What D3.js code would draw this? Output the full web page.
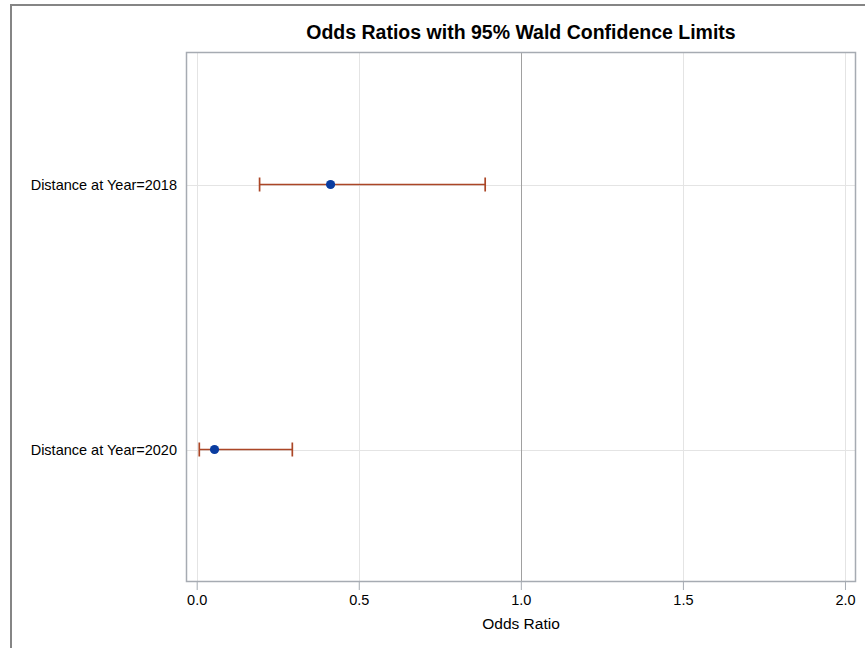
<!DOCTYPE html>
<html>
<head>
<meta charset="utf-8">
<script src="https://cdn.jsdelivr.net/npm/d3@7"></script>
<style>
  html, body { margin: 0; padding: 0; background: #fff; }
  svg { display: block; }
  text { font-family: "Liberation Sans", Arial, sans-serif; fill: #000; }
</style>
</head>
<body>
<svg id="chart" width="865" height="648"></svg>
<script>
// ---- data ----
const categories = ["Distance at Year=2018", "Distance at Year=2020"];
const oddsRatio  = [0.413, 0.055];
const lowerCL    = [0.194, 0.008];
const upperCL    = [0.890, 0.295];
const xTicks     = [0.0, 0.5, 1.0, 1.5, 2.0];
const refValue   = 1.0;
const titleText  = "Odds Ratios with 95% Wald Confidence Limits";
const xLabel     = "Odds Ratio";

// ---- layout ----
const W = 865, H = 648;
const plot = { left: 186, right: 856, top: 52, bottom: 582 };

const svg = d3.select("#chart");

// outer window border (top + left)
svg.append("line").attr("x1", 11).attr("x2", W).attr("y1", 5).attr("y2", 5)
  .attr("stroke", "#858585").attr("stroke-width", 2);
svg.append("line").attr("x1", 11).attr("x2", 11).attr("y1", 4).attr("y2", H)
  .attr("stroke", "#858585").attr("stroke-width", 2);

const x = d3.scaleLinear().domain([-0.033, 2.034]).range([plot.left, plot.right]);
const y = d3.scalePoint().domain(categories).range([plot.top, plot.bottom]).padding(0.5);

// vertical grid lines
svg.append("g").selectAll("line").data(xTicks.filter(t => t !== refValue)).join("line")
  .attr("x1", d => Math.round(x(d)) + 0.5).attr("x2", d => Math.round(x(d)) + 0.5)
  .attr("y1", plot.top).attr("y2", plot.bottom)
  .attr("stroke", "#e4e4e4").attr("stroke-width", 1);

// horizontal grid lines
svg.append("g").selectAll("line").data(categories).join("line")
  .attr("x1", plot.left).attr("x2", plot.right)
  .attr("y1", d => Math.round(y(d)) + 0.5).attr("y2", d => Math.round(y(d)) + 0.5)
  .attr("stroke", "#e4e4e4").attr("stroke-width", 1);

// reference line at 1
svg.append("line")
  .attr("x1", Math.round(x(refValue)) + 0.5).attr("x2", Math.round(x(refValue)) + 0.5)
  .attr("y1", plot.top).attr("y2", plot.bottom)
  .attr("stroke", "#a0a0a0").attr("stroke-width", 1);

// plot frame
svg.append("rect")
  .attr("x", plot.left + 0.5).attr("y", plot.top + 0.5)
  .attr("width", plot.right - plot.left - 1).attr("height", plot.bottom - plot.top - 1)
  .attr("fill", "none").attr("stroke", "#a6abb2").attr("stroke-width", 1.5);

// x axis
const xAxis = d3.axisBottom(x).tickValues(xTicks).tickFormat(d3.format(".1f"))
  .tickSize(8).tickPadding(5);
const gx = svg.append("g").attr("transform", `translate(0,${plot.bottom})`).call(xAxis);
gx.select(".domain").remove();
gx.selectAll(".tick line").attr("stroke", "#a6abb2");
gx.selectAll(".tick text").attr("font-size", "14.5px")
  .attr("font-family", "'Liberation Sans', Arial, sans-serif").attr("fill", "#000");

// x axis label
svg.append("text").attr("x", (plot.left + plot.right) / 2).attr("y", 629)
  .attr("text-anchor", "middle").attr("font-size", "15.5px").text(xLabel);

// y labels
svg.append("g").selectAll("text").data(categories).join("text")
  .attr("x", 177).attr("y", d => y(d)).attr("dy", "0.36em")
  .attr("text-anchor", "end").attr("font-size", "14.5px").text(d => d);

// title
svg.append("text").attr("x", (plot.left + plot.right) / 2).attr("y", 39)
  .attr("text-anchor", "middle").attr("font-size", "19.5px").attr("font-weight", "bold")
  .text(titleText);

// error bars
const errColor = "#ab4626";
const rows = categories.map((c, i) => ({ c, or: oddsRatio[i], lo: lowerCL[i], hi: upperCL[i] }));
const eg = svg.append("g");
eg.selectAll("line.bar").data(rows).join("line").attr("class", "bar")
  .attr("x1", d => x(d.lo)).attr("x2", d => x(d.hi))
  .attr("y1", d => y(d.c)).attr("y2", d => y(d.c))
  .attr("stroke", errColor).attr("stroke-width", 1.7);
eg.selectAll("line.capl").data(rows).join("line").attr("class", "capl")
  .attr("x1", d => x(d.lo)).attr("x2", d => x(d.lo))
  .attr("y1", d => y(d.c) - 7).attr("y2", d => y(d.c) + 7)
  .attr("stroke", errColor).attr("stroke-width", 1.7);
eg.selectAll("line.caph").data(rows).join("line").attr("class", "caph")
  .attr("x1", d => x(d.hi)).attr("x2", d => x(d.hi))
  .attr("y1", d => y(d.c) - 7).attr("y2", d => y(d.c) + 7)
  .attr("stroke", errColor).attr("stroke-width", 1.7);

// point estimates
svg.append("g").selectAll("circle").data(rows).join("circle")
  .attr("cx", d => x(d.or)).attr("cy", d => y(d.c)).attr("r", 4.6)
  .attr("fill", "#0a3ca0");
</script>
</body>
</html>
